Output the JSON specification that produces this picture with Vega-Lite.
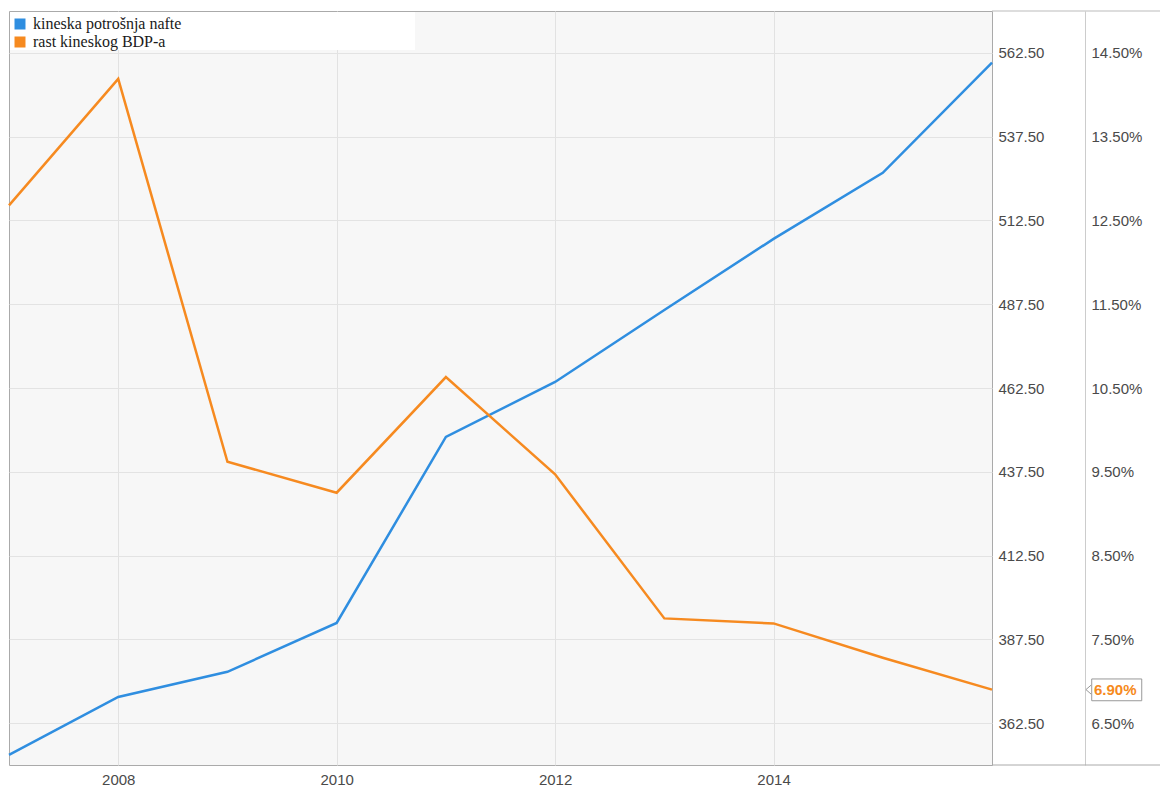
{
  "$schema": "https://vega.github.io/schema/vega-lite/v6.json",
  "width": 983,
  "height": 754,
  "autosize": "none",
  "padding": {"left": 9, "top": 11, "right": 168, "bottom": 22},
  "background": "white",
  "config": {
    "view": {"fill": "#f7f7f7", "stroke": "#aaaaaa", "strokeWidth": 1},
    "axis": {"labelFont": "Liberation Sans", "labelFontSize": 15, "labelColor": "#4a4a4a", "zindex": 0}
  },
  "data": {
    "values": [
      {"year": 2007, "oil": 353.0, "gdp": 12.68},
      {"year": 2008, "oil": 370.3, "gdp": 14.19},
      {"year": 2009, "oil": 377.8, "gdp": 9.62},
      {"year": 2010, "oil": 392.4, "gdp": 9.25},
      {"year": 2011, "oil": 447.9, "gdp": 10.63},
      {"year": 2012, "oil": 464.3, "gdp": 9.47},
      {"year": 2013, "oil": 485.8, "gdp": 7.75},
      {"year": 2014, "oil": 507.0, "gdp": 7.69},
      {"year": 2015, "oil": 526.7, "gdp": 7.28},
      {"year": 2016, "oil": 559.6, "gdp": 6.90}
    ]
  },
  "encoding": {
    "x": {
      "field": "year",
      "type": "quantitative",
      "scale": {"domain": [2007, 2016], "nice": false, "zero": false},
      "axis": {
        "values": [2008, 2010, 2012, 2014],
        "format": "d",
        "grid": true,
        "gridColor": "#e2e2e2",
        "domain": false,
        "ticks": false,
        "labelPadding": 7,
        "zindex": 0,
        "title": null
      }
    }
  },
  "layer": [
    {
      "layer": [
        {
          "transform": [{"filter": "datum.year == 2007"}],
          "mark": {"type": "rect", "fill": "white"},
          "encoding": {
            "x": {"datum": 2007.01},
            "x2": {"datum": 2010.717},
            "y": {"datum": 574.7, "type": "quantitative"},
            "y2": {"datum": 563.36}
          }
        },
        {
          "mark": {"type": "line", "color": "#2f8ee0", "strokeWidth": 2.5},
          "encoding": {
            "y": {
              "field": "oil",
              "type": "quantitative",
              "scale": {"domain": [350, 575], "nice": false, "zero": false},
              "axis": {
                "orient": "right",
                "values": [362.5, 387.5, 412.5, 437.5, 462.5, 487.5, 512.5, 537.5, 562.5],
                "format": ".2f",
                "grid": true,
                "gridColor": "#e3e3e3",
                "domain": false,
                "ticks": false,
                "labelPadding": 6,
                "zindex": 0,
                "title": null
              }
            },
            "color": {
              "datum": "kineska potrošnja nafte",
              "scale": {
                "domain": ["kineska potrošnja nafte", "rast kineskog BDP-a"],
                "range": ["#2f8ee0", "#f68a20"]
              },
              "legend": {
                "orient": "none",
                "legendX": 3,
                "legendY": 5,
                "title": null,
                "padding": 0,
                "symbolType": "square",
                "symbolSize": 90,
                "labelFont": "Liberation Serif",
                "labelFontSize": 16,
                "labelColor": "#1a1a1a",
                "labelOffset": 5,
                "rowPadding": 2,
                "encode": {
                  "symbols": {
                    "update": {
                      "fill": {"scale": "color", "field": "value"},
                      "stroke": {"value": "transparent"}
                    }
                  }
                }
              }
            }
          }
        },
        {
          "transform": [{"filter": "datum.year == 2016"}],
          "mark": {"type": "rule", "color": "#bbbbbb", "strokeWidth": 1, "clip": false},
          "encoding": {
            "x": {"field": "year", "type": "quantitative"},
            "x2": {"datum": 2017.6},
            "y": {"datum": 575, "type": "quantitative"}
          }
        },
        {
          "transform": [{"filter": "datum.year == 2016"}],
          "mark": {"type": "rule", "color": "#aaaaaa", "strokeWidth": 1, "clip": false},
          "encoding": {
            "x": {"field": "year", "type": "quantitative"},
            "x2": {"datum": 2017.6},
            "y": {"datum": 350, "type": "quantitative"}
          }
        }
      ]
    },
    {
      "layer": [
        {
          "mark": {"type": "line", "color": "#f68a20", "strokeWidth": 2.5},
          "encoding": {
            "y": {
              "field": "gdp",
              "type": "quantitative",
              "scale": {"domain": [6, 15], "nice": false, "zero": false},
              "axis": {
                "orient": "right",
                "offset": 93,
                "values": [6.5, 7.5, 8.5, 9.5, 10.5, 11.5, 12.5, 13.5, 14.5],
                "labelExpr": "format(datum.value, '.2f') + '%'",
                "grid": false,
                "domain": true,
                "domainColor": "#cccccc",
                "ticks": false,
                "labelPadding": 6,
                "zindex": 0,
                "title": null
              }
            },
            "color": {"datum": "rast kineskog BDP-a"}
          }
        },
        {
          "transform": [{"filter": "datum.year == 2016"}],
          "mark": {"type": "rect", "fill": "white", "stroke": "#999999", "strokeWidth": 1, "clip": false},
          "encoding": {
            "x": {"datum": 2016.913},
            "x2": {"datum": 2017.371},
            "y": {"datum": 7.027, "type": "quantitative"},
            "y2": {"datum": 6.767}
          }
        },
        {
          "transform": [{"filter": "datum.year == 2016"}],
          "mark": {
            "type": "point",
            "shape": "M 1.5 -1.3 L 0 0 L 1.5 1.3",
            "size": 49,
            "filled": false,
            "stroke": "#999999",
            "strokeWidth": 1,
            "opacity": 1,
            "clip": false
          },
          "encoding": {
            "x": {"datum": 2016.86},
            "y": {"field": "gdp", "type": "quantitative"}
          }
        },
        {
          "transform": [{"filter": "datum.year == 2016"}],
          "mark": {
            "type": "text",
            "text": "6.90%",
            "align": "left",
            "baseline": "middle",
            "dx": 102,
            "font": "Liberation Sans",
            "fontSize": 15,
            "fontWeight": "bold",
            "color": "#f68a20",
            "clip": false
          },
          "encoding": {
            "x": {"field": "year", "type": "quantitative"},
            "y": {"field": "gdp", "type": "quantitative"}
          }
        }
      ]
    }
  ],
  "resolve": {"scale": {"y": "independent"}}
}
